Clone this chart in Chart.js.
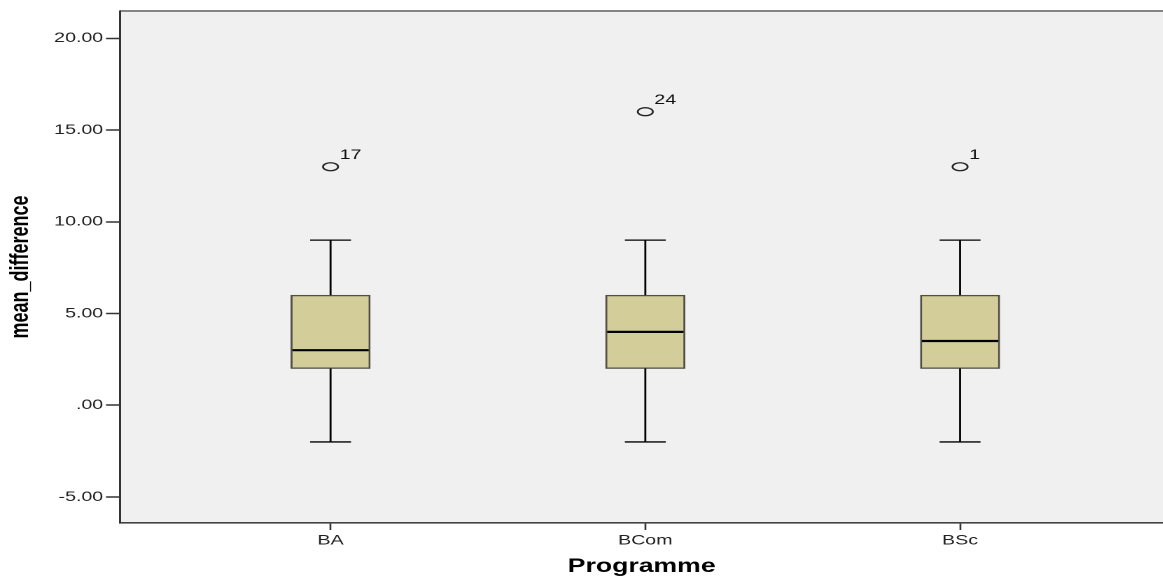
<!DOCTYPE html>
<html lang="en">
<head>
  <meta charset="UTF-8">
  <title>mean_difference by Programme</title>
  <style>
    html, body {
      margin: 0;
      padding: 0;
      background: #fff;
      overflow: hidden;
    }
    /* the reference output is stretched sideways, so the chart is drawn narrow and widened */
    #wrap {
      width: 831px;
      height: 579px;
      transform: scaleX(1.4);
      transform-origin: 0 0;
    }
  </style>
</head>
<body>
  <div id="wrap">
    <canvas id="boxChart"></canvas>
  </div>

  <script src="https://cdn.jsdelivr.net/npm/chart.js"></script>
  <script>
    // box plot values, one entry per programme
    const programmes = ['BA', 'BCom', 'BSc'];
    const whiskerLow = [-2, -2, -2];
    const quartile1 = [2, 2, 2];
    const medians = [3, 4, 3.5];
    const quartile3 = [6, 6, 6];
    const whiskerHigh = [9, 9, 9];
    const outlierValues = [13, 16, 13];
    const outlierCases = ['17', '24', '1'];
    const yTicks = [-5, 0, 5, 10, 15, 20];

    const FONT = "'Liberation Sans', Arial, sans-serif";

    // plot background, whiskers, medians and outliers
    const boxParts = {
      id: 'boxParts',
      beforeDraw(chart) {
        const { ctx, chartArea: a } = chart;
        ctx.save();
        ctx.fillStyle = '#f0f0f0';
        ctx.fillRect(a.left, a.top, a.right - a.left, a.bottom - a.top);
        ctx.strokeStyle = '#858585';
        ctx.lineWidth = 2;
        ctx.beginPath();
        ctx.moveTo(a.left, a.top);
        ctx.lineTo(a.right, a.top);
        ctx.stroke();
        ctx.restore();
      },
      afterDatasetsDraw(chart) {
        const { ctx, scales: { x, y } } = chart;
        const boxes = chart.getDatasetMeta(0).data;
        const points = chart.getDatasetMeta(1).data;
        const capHalf = 14.6;
        ctx.save();
        ctx.strokeStyle = '#000';
        programmes.forEach((p, i) => {
          const cx = x.getPixelForValue(i + 1);
          const half = boxes[i].width / 2;
          // whiskers
          ctx.lineWidth = 1.4;
          ctx.beginPath();
          ctx.moveTo(cx, y.getPixelForValue(quartile3[i]));
          ctx.lineTo(cx, y.getPixelForValue(whiskerHigh[i]));
          ctx.moveTo(cx, y.getPixelForValue(quartile1[i]));
          ctx.lineTo(cx, y.getPixelForValue(whiskerLow[i]));
          ctx.stroke();
          ctx.lineWidth = 1.3;
          ctx.beginPath();
          [whiskerHigh[i], whiskerLow[i]].forEach(v => {
            const py = y.getPixelForValue(v);
            ctx.moveTo(cx - capHalf, py);
            ctx.lineTo(cx + capHalf, py);
          });
          ctx.stroke();
          // median
          ctx.lineWidth = 2.2;
          ctx.beginPath();
          const my = y.getPixelForValue(medians[i]);
          ctx.moveTo(cx - half + 1, my);
          ctx.lineTo(cx + half - 1, my);
          ctx.stroke();
          // outlier marker and case number
          const pt = points[i];
          ctx.strokeStyle = '#222';
          ctx.lineWidth = 1.3;
          ctx.beginPath();
          ctx.ellipse(pt.x, pt.y, 5.4, 4, 0, 0, Math.PI * 2);
          ctx.stroke();
          ctx.strokeStyle = '#000';
          ctx.fillStyle = '#111';
          ctx.font = '14px ' + FONT;
          ctx.textAlign = 'left';
          ctx.textBaseline = 'alphabetic';
          ctx.fillText(outlierCases[i], pt.x + 6.5, pt.y - 7.5);
        });
        ctx.restore();
      }
    };

    window.onload = function () {
      const ctx = document.getElementById('boxChart').getContext('2d');
      new Chart(ctx, {
        type: 'bar',
        data: {
          datasets: [
            {
              type: 'bar',
              data: programmes.map((p, i) => ({ x: i + 1, y: [quartile1[i], quartile3[i]] })),
              backgroundColor: '#d3ce99',
              borderColor: '#4f4f46',
              borderWidth: 1.4,
              borderSkipped: false,
              barThickness: 56.5
            },
            {
              type: 'scatter',
              data: programmes.map((p, i) => ({ x: i + 1, y: outlierValues[i] })),
              pointRadius: 0,
              pointHoverRadius: 0
            }
          ]
        },
        options: {
          responsive: true,
          maintainAspectRatio: false,
          devicePixelRatio: 2,
          animation: false,
          events: [],
          layout: { padding: { top: 11, right: 0, bottom: 0, left: 0 } },
          plugins: {
            legend: { display: false },
            tooltip: { enabled: false }
          },
          scales: {
            x: {
              type: 'linear',
              min: 0.331,
              max: 3.646,
              offset: false,
              afterBuildTicks: s => { s.ticks = programmes.map((p, i) => ({ value: i + 1 })); },
              afterFit: s => { s.height = 56; },
              ticks: {
                callback: v => programmes[v - 1],
                autoSkip: false,
                maxRotation: 0,
                padding: 2,
                color: '#222',
                font: { family: FONT, size: 14 }
              },
              grid: {
                offset: false,
                drawOnChartArea: false,
                tickLength: 7,
                tickWidth: 1.3,
                tickColor: '#333'
              },
              border: { color: '#444', width: 1.6 },
              title: {
                display: true,
                text: 'Programme',
                color: '#000',
                font: { family: FONT, size: 19, weight: 'bold' },
                padding: { top: 0, bottom: 1 }
              }
            },
            y: {
              min: -6.42,
              max: 21.49,
              afterBuildTicks: s => { s.ticks = yTicks.map(v => ({ value: v })); },
              afterFit: s => { s.width = 85.7; },
              ticks: {
                callback: v => (v === 0 ? '.00' : v.toFixed(2)),
                padding: 2,
                color: '#222',
                font: { family: FONT, size: 14 }
              },
              grid: {
                drawOnChartArea: false,
                tickLength: 10,
                tickWidth: 1.5,
                tickColor: '#333'
              },
              border: { color: '#333', width: 1.5 },
              title: {
                display: true,
                text: 'mean_difference',
                color: '#000',
                font: { family: FONT, size: 18, weight: 'bold' },
                padding: { top: 4, bottom: 0 }
              }
            }
          }
        },
        plugins: [boxParts]
      });
    };
  </script>
</body>
</html>
